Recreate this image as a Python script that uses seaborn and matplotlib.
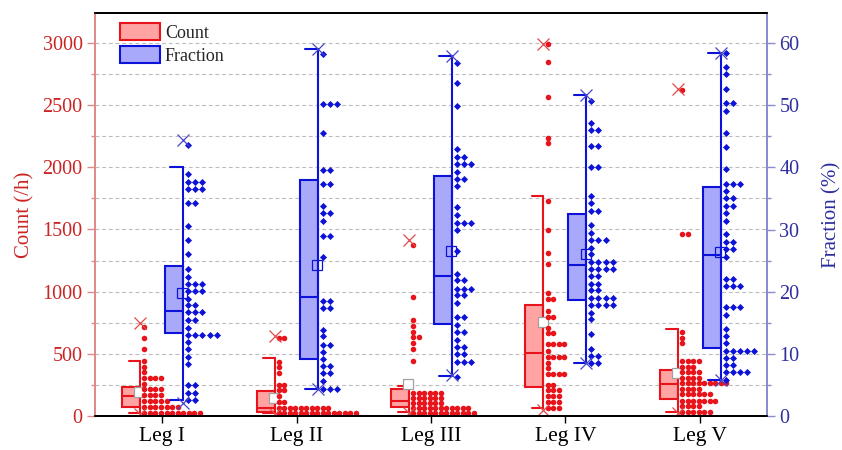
import numpy as np
import pandas as pd
import matplotlib
matplotlib.use("Agg")
import matplotlib.pyplot as plt
import seaborn as sns
from matplotlib.patches import Rectangle, Patch

sns.set_style("ticks")
plt.rcParams["font.family"] = ["Liberation Serif", "DejaVu Serif"]

# ---------------- data ----------------
groups = ["Leg I", "Leg II", "Leg III", "Leg IV", "Leg V"]

# Count (/h): binned dots (value, number of dots in bin)
cnt_leg1 = [(718, 1), (630, 1), (536, 1), (445, 1), (397, 1), (351, 1), (303, 4), (257, 1),
            (214, 4), (169, 4), (121, 5), (75, 7), (22, 11)]
cnt_leg2 = [(625, 2), (437, 1), (397, 1), (349, 1), (249, 2), (209, 2), (161, 1), (115, 2),
            (67, 10), (22, 15)]
cnt_leg3 = [(1376, 1), (960, 1), (772, 1), (724, 1), (678, 1), (633, 2), (585, 1), (536, 1),
            (442, 1), (182, 6), (142, 6), (102, 6), (62, 11), (22, 12)]
cnt_leg4 = [(2993, 1), (2843, 1), (2564, 1), (2239, 1), (2194, 1), (1730, 1), (1496, 1),
            (1309, 1), (1220, 1), (987, 1), (941, 2), (845, 1), (799, 2), (710, 1), (665, 2),
            (577, 4), (523, 1), (477, 4), (424, 1), (384, 1), (338, 4), (249, 2), (209, 3),
            (161, 3), (115, 3), (67, 3)]
cnt_leg5 = [(2623, 1), (1462, 2), (673, 1), (630, 1), (585, 1), (442, 4), (397, 3), (351, 4),
            (308, 4), (263, 9), (217, 4), (175, 6), (123, 7), (80, 4), (30, 6)]

# Fraction (%): binned dots (value, number of dots in bin)
frac_leg1 = [(43.6, 1), (38.9, 1), (37.7, 3), (36.5, 3), (34.2, 2), (30.6, 1), (28.3, 1),
             (26.0, 1), (23.6, 1), (22.4, 1), (21.3, 3), (20.1, 3), (18.8, 1), (17.9, 2),
             (16.7, 3), (15.4, 2), (14.2, 1), (13.1, 5), (11.95, 1), (10.7, 1), (9.5, 1),
             (8.4, 1), (5.0, 2), (3.75, 2), (2.6, 2)]
frac_leg2 = [(58.3, 1), (50.2, 3), (45.5, 1), (39.6, 2), (37.3, 2), (33.8, 1), (32.6, 2),
             (31.4, 1), (29.0, 2), (25.5, 1), (18.5, 2), (17.3, 2), (13.8, 1), (12.8, 1),
             (11.5, 2), (10.3, 1), (9.2, 1), (8.0, 2), (6.9, 2), (5.6, 1), (4.3, 3)]
frac_leg3 = [(56.8, 1), (53.5, 1), (49.9, 1), (42.9, 1), (41.7, 2), (40.5, 3), (39.3, 1),
             (38.1, 2), (37.0, 1), (33.6, 1), (32.3, 1), (31.1, 3), (29.9, 1), (26.6, 1),
             (22.9, 1), (21.8, 2), (20.5, 3), (19.4, 2), (18.2, 1), (15.9, 2), (14.6, 1),
             (13.5, 2), (12.3, 1), (11.1, 2), (10.0, 2), (8.7, 3), (6.3, 1)]
frac_leg4 = [(50.6, 1), (47.1, 1), (46.0, 2), (43.5, 2), (40.1, 2), (35.4, 1), (34.2, 1),
             (33.0, 2), (30.7, 1), (29.5, 1), (28.3, 3), (27.1, 1), (26.0, 1), (24.8, 4),
             (23.6, 4), (22.5, 2), (21.3, 2), (20.2, 2), (19.0, 4), (17.9, 4), (16.6, 1),
             (15.6, 1), (13.2, 1), (10.8, 1), (9.7, 2), (8.6, 2)]
frac_leg5 = [(58.4, 1), (56.2, 1), (55.0, 1), (52.6, 1), (50.3, 2), (49.1, 1), (45.5, 1),
             (43.2, 1), (39.7, 1), (37.4, 3), (36.2, 1), (35.0, 2), (33.8, 2), (32.7, 1),
             (31.4, 1), (29.2, 1), (28.0, 2), (26.8, 2), (25.6, 1), (22.1, 2), (20.9, 3),
             (17.5, 3), (16.2, 1), (14.0, 1), (12.9, 1), (11.7, 1), (10.5, 5), (9.3, 2),
             (8.2, 2), (7.0, 4), (5.8, 1)]

# Box statistics
cnt_q1 = [70, 35, 75, 236, 137]
cnt_med = [161, 62, 121, 509, 255]
cnt_q3 = [236, 205, 215, 893, 370]
cnt_wlo = [27, 21, 35, 62, 30]
cnt_whi = [445, 464, 245, 1772, 700]
cnt_mean = [196, 145, 258, 759, 345]
cnt_min = [20, 18, 28, 50, 22]
cnt_max = [748, 644, 1416, 2993, 2628]

frac_q1 = [13.3, 9.2, 14.8, 18.7, 11.0]
frac_med = [16.9, 19.2, 22.6, 24.3, 25.9]
frac_q3 = [24.1, 38.0, 38.6, 32.5, 36.8]
frac_wlo = [2.6, 4.3, 6.5, 8.5, 5.8]
frac_whi = [40.1, 59.0, 57.9, 51.6, 58.4]
frac_mean = [19.8, 24.3, 26.6, 26.1, 26.4]
frac_min = [2.1, 4.3, 6.6, 8.5, 5.8]
frac_max = [44.4, 59.0, 57.9, 51.6, 58.4]

cnt_dots = [cnt_leg1, cnt_leg2, cnt_leg3, cnt_leg4, cnt_leg5]
frac_dots = [frac_leg1, frac_leg2, frac_leg3, frac_leg4, frac_leg5]

# ---------------- style ----------------
RED = "#E8141B"
RED_FILL = "#FFA3A3"
RED_X = "#E04848"
BLUE = "#0D12D8"
BLUE_FILL = "#A9A9FB"
BLUE_X = "#4646C8"
LEFT_AX = "#E08A8A"
RIGHT_AX = "#8A8ACF"
LEFT_TXT = "#CC2424"
RIGHT_TXT = "#2E2EA0"

fig = plt.figure(figsize=(8.42, 4.5), dpi=100)
ax = fig.add_axes([95 / 842, 34 / 450, 672 / 842, 403 / 450])
ax2 = ax.twinx()

positions = np.arange(1, len(groups) + 1)
ax.set_xlim(0.5, 5.5)
ax.set_ylim(0, 3241)
ax2.set_ylim(0, 64.83)

# grid
for v in np.arange(250, 3241, 250):
    ax.axhline(v, color="#BDBDBD", lw=0.8, ls=(0, (3.5, 2.5)), zorder=0)


def draw_series(a, dots, q1, med, q3, wlo, whi, mean, mn, mx, right_off, box_w, cap_w,
                dot_gap, dot_step, fc, ec, xc, marker, msize, mean_fc, mean_ec):
    for i, pos in enumerate(positions):
        xr = pos + right_off
        a.add_patch(Rectangle((xr - box_w, q1[i]), box_w, q3[i] - q1[i], facecolor=fc,
                              edgecolor=ec, lw=1.5, zorder=2))
        a.plot([xr - box_w, xr], [med[i], med[i]], color=ec, lw=1.5, zorder=3)
        a.plot([xr, xr], [wlo[i], whi[i]], color=ec, lw=1.5, zorder=3)
        for w in (wlo[i], whi[i]):
            a.plot([xr - cap_w, xr], [w, w], color=ec, lw=1.5, zorder=3)
        a.plot([xr, xr], [mn[i], mx[i]], ls="none", marker="x", ms=9, mew=0.9,
               color=xc, zorder=5)
        a.plot(xr - 0.005, mean[i], ls="none", marker="s", ms=7, mfc=mean_fc, mec=mean_ec,
               mew=0.9, zorder=4)
        xs, ys = [], []
        for val, n in dots[i]:
            for k in range(n):
                xs.append(xr + dot_gap + k * dot_step)
                ys.append(val)
        df = pd.DataFrame({"x": xs, "y": ys})
        sns.scatterplot(data=df, x="x", y="y", ax=a, color=ec, marker=marker, s=msize,
                        linewidth=0, zorder=4, legend=False)


draw_series(ax, cnt_dots, cnt_q1, cnt_med, cnt_q3, cnt_wlo, cnt_whi, cnt_mean, cnt_min,
            cnt_max, right_off=-0.164, box_w=0.134, cap_w=0.085, dot_gap=0.032,
            dot_step=0.041, fc=RED_FILL, ec=RED, xc=RED_X, marker="o", msize=16,
            mean_fc="white", mean_ec="#A0A0A0")
draw_series(ax2, frac_dots, frac_q1, frac_med, frac_q3, frac_wlo, frac_whi, frac_mean,
            frac_min, frac_max, right_off=0.156, box_w=0.134, cap_w=0.095, dot_gap=0.037,
            dot_step=0.053, fc=BLUE_FILL, ec=BLUE, xc=BLUE_X, marker="D", msize=13,
            mean_fc="none", mean_ec=BLUE)

ax.set_xlim(0.5, 5.5)
ax.set_ylim(0, 3241)
ax2.set_ylim(0, 64.83)

# axes styling
ax.set_xticks(positions)
ax.set_xticklabels(groups, fontsize=15.5, color="black")
ax.set_yticks(np.arange(0, 3001, 500))
ax.set_yticks(np.arange(250, 3241, 500), minor=True)
ax2.set_yticks(np.arange(0, 61, 10))
ax2.set_yticks(np.arange(5, 65, 10), minor=True)
ax.set_xlabel("")
ax.set_ylabel("Count (/h)", fontsize=15, color=LEFT_TXT, labelpad=6)
ax2.set_ylabel("Fraction (%)", fontsize=15, color=RIGHT_TXT, labelpad=16)
ax2.set_xlabel("")

ax.tick_params(axis="y", which="major", length=6, width=1, color=LEFT_AX, labelsize=14.5,
               labelcolor=LEFT_TXT, pad=3)
ax.tick_params(axis="y", which="minor", length=3, width=1, color=LEFT_AX)
ax.tick_params(axis="x", which="major", length=5, width=1, color="black", pad=3)
ax2.tick_params(axis="y", which="major", length=6, width=1, color=RIGHT_AX, labelsize=14.5,
                labelcolor=RIGHT_TXT, pad=3)
ax2.tick_params(axis="y", which="minor", length=3, width=1, color=RIGHT_AX)

for a in (ax, ax2):
    a.spines["left"].set_color(LEFT_AX)
    a.spines["right"].set_color(RIGHT_AX)
    a.spines["top"].set_color("black")
    a.spines["bottom"].set_color("black")
    for s in a.spines.values():
        s.set_linewidth(1.3)
    a.spines["top"].set_visible(True)
    a.spines["right"].set_visible(True)

handles = [Patch(facecolor=RED_FILL, edgecolor=RED, lw=1.5, label="Count"),
           Patch(facecolor=BLUE_FILL, edgecolor=BLUE, lw=1.5, label="Fraction")]
ax2.legend(handles=handles, loc="upper left", bbox_to_anchor=(0.037, 0.975), frameon=False,
           fontsize=13, handlelength=2.2, handleheight=1.05, handletextpad=0.3,
           labelspacing=0.25, borderpad=0, borderaxespad=0)

fig.savefig("out.png", dpi=100)
